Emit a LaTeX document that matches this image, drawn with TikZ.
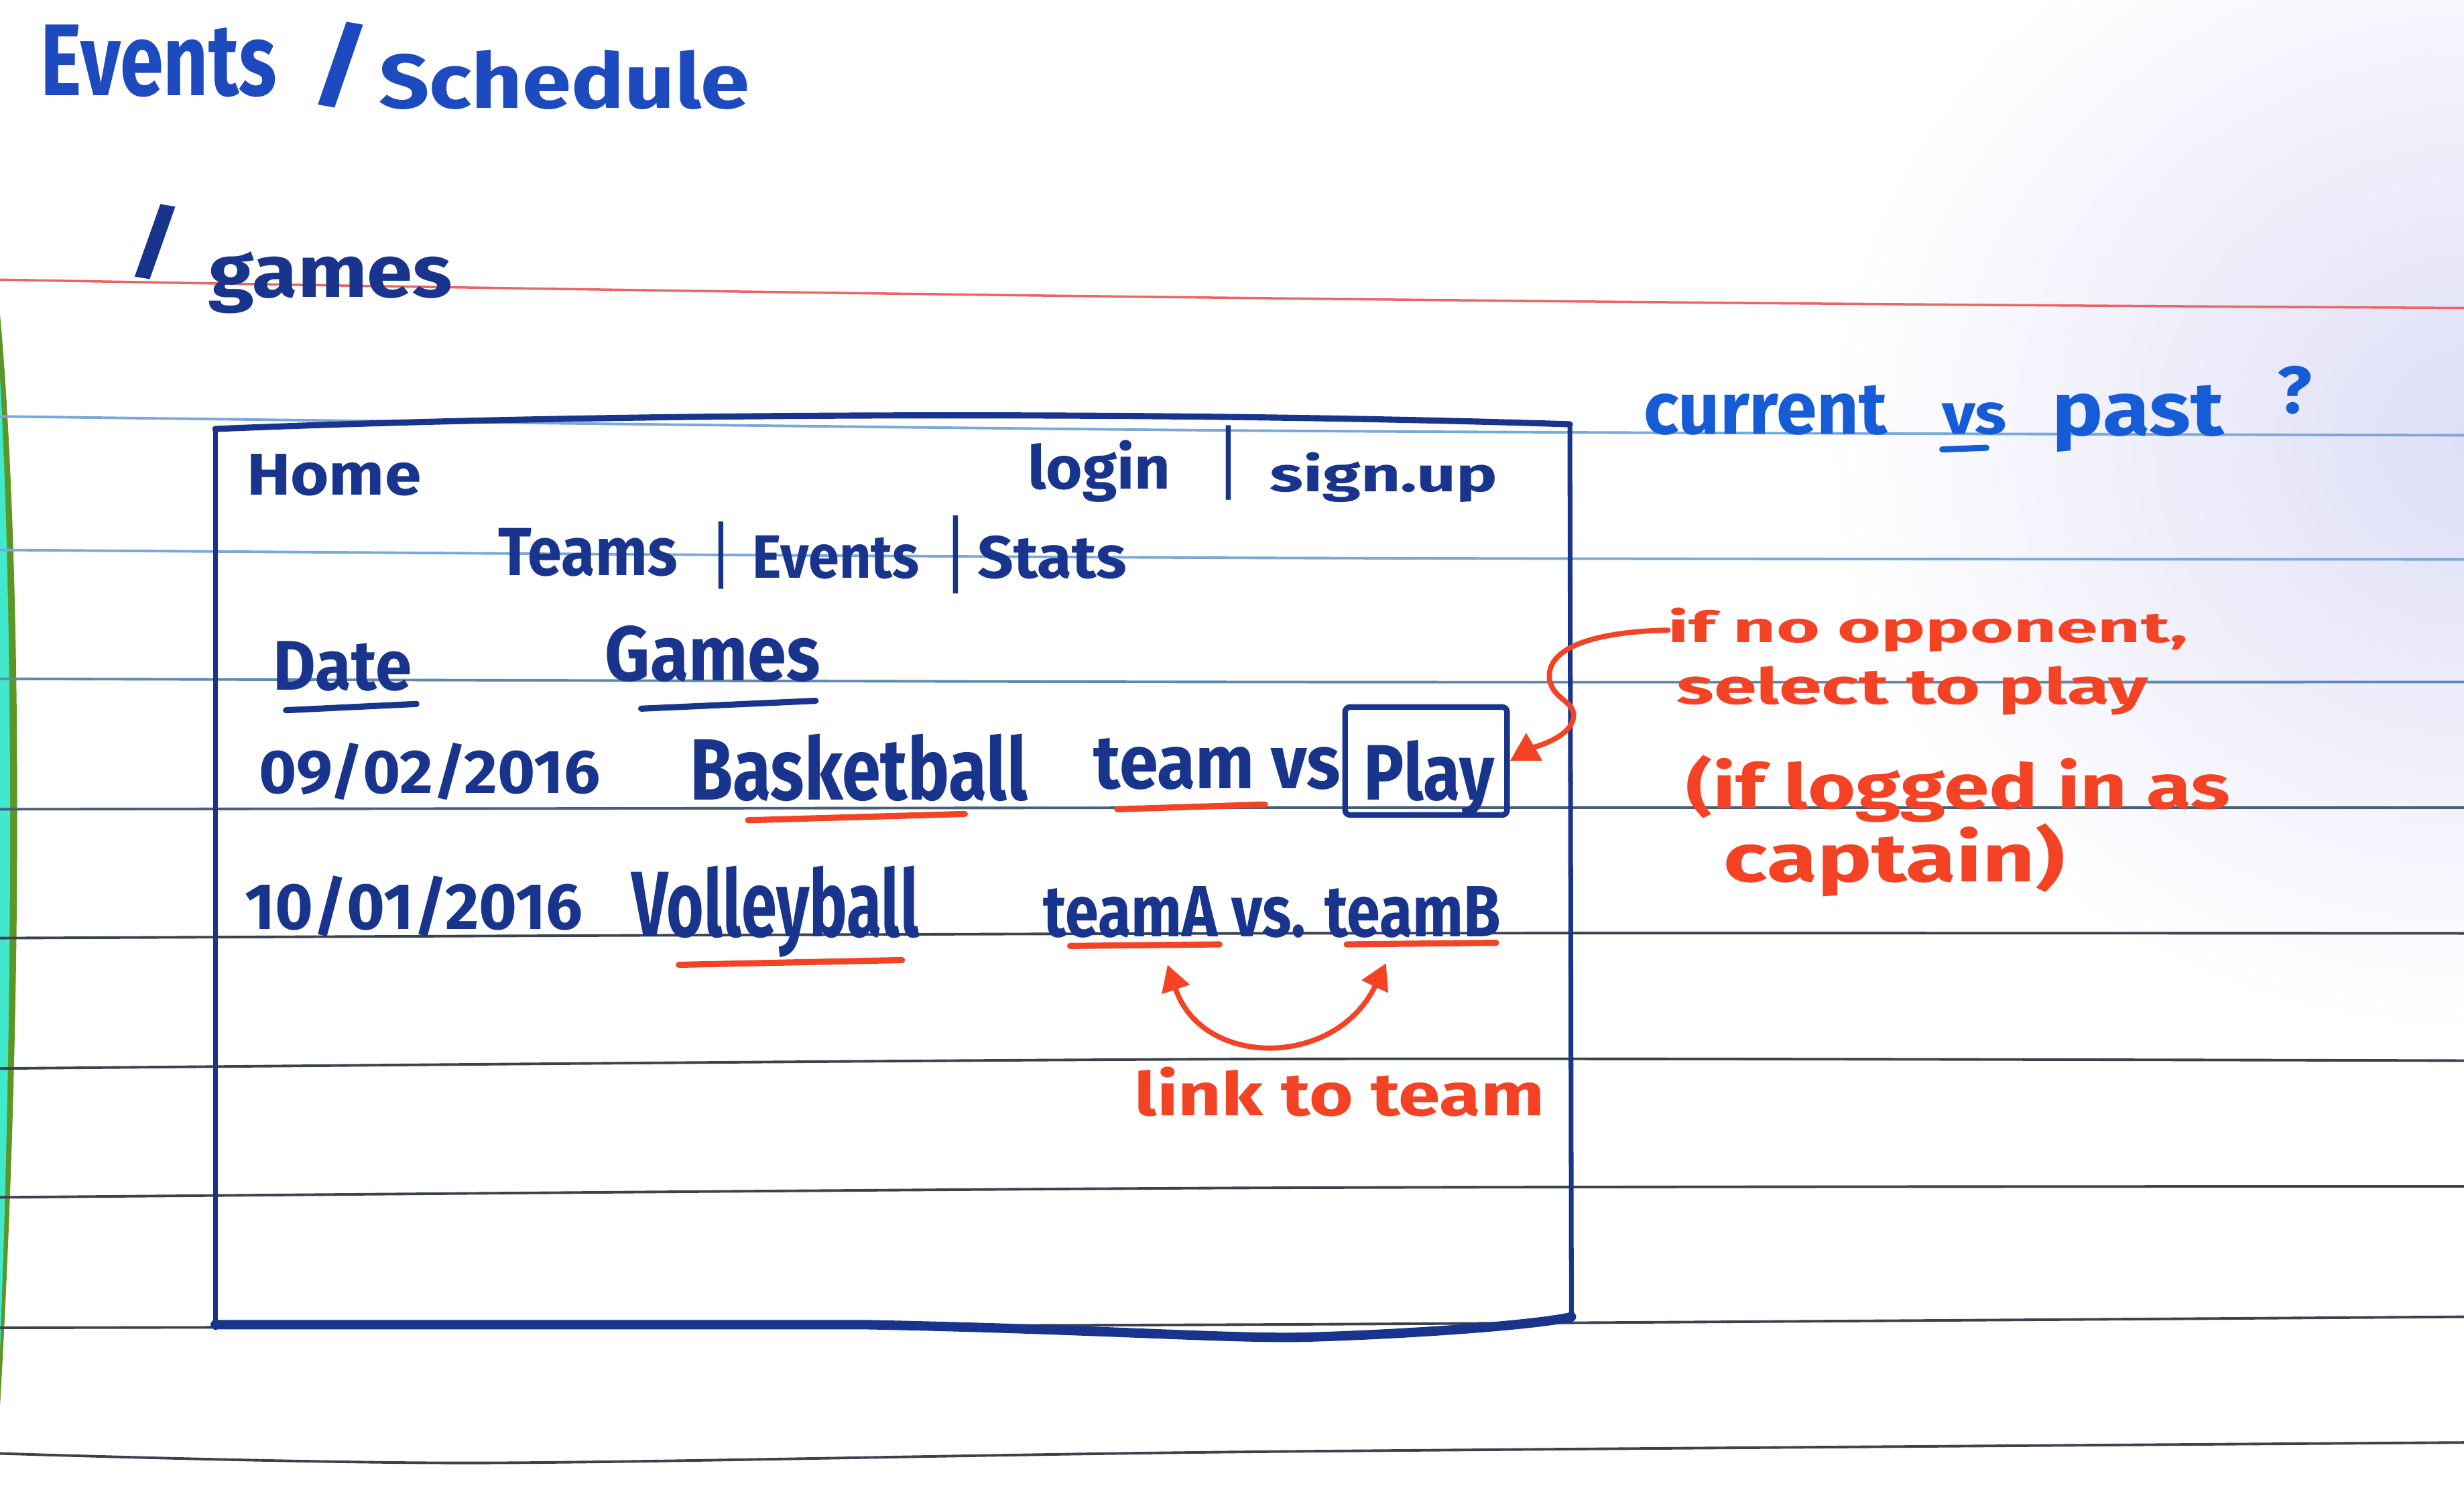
\documentclass[tikz,border=0pt]{standalone}
\usepackage{fontspec}
\setmainfont{Fira Sans}
\usetikzlibrary{arrows.meta}
% one drawing unit = one pixel of a 1568 px wide sheet
\newdimen\sh \sh=0.023444cm
% text fitted to a given width and height (in sheet units)
\newcommand\hw[3]{\resizebox{#1\sh}{#2\sh}{#3}}
\definecolor{ink}{RGB}{24,52,140}
\definecolor{titleink}{RGB}{30,74,192}
\definecolor{noteink}{RGB}{22,92,214}
\definecolor{redink}{RGB}{244,66,36}
\definecolor{marginred}{RGB}{236,100,100}
\definecolor{ruleA}{RGB}{122,168,216}
\definecolor{ruleB}{RGB}{98,136,176}
\definecolor{ruleC}{RGB}{72,94,118}
\definecolor{ruleD}{RGB}{58,66,78}
\definecolor{haze}{RGB}{222,222,247}
\definecolor{edgeteal}{RGB}{64,232,204}
\definecolor{edgegreen}{RGB}{92,150,36}
\begin{document}
\begin{tikzpicture}[x=0.023444cm,y=-0.023444cm,
  hand/.style={inner sep=0pt,outer sep=0pt,anchor=base west,font=\bfseries},
  rule/.style={line width=1.1pt},
  frame/.style={draw=ink,line cap=round,line join=round},
  blueline/.style={draw=ink,line width=2.6pt,line cap=round},
  redline/.style={draw=redink,line width=2.6pt,line cap=round},
  redarrow/.style={draw=redink,line width=2.2pt,line cap=round}]
\useasboundingbox (0,0) rectangle (1568,952);
\fill[white] (0,0) rectangle (1568,952);

% light cast in the upper right corner
\begin{scope}
  \clip (0,0) rectangle (1568,952);
  \shade[inner color=haze,outer color=white] (1580,280) ellipse (420 and 380);
\end{scope}

% coloured edge of the page
\fill[edgegreen] (0,200) .. controls (12,330) and (17,600) .. (0,895) -- cycle;
\fill[edgeteal] (0,240) .. controls (7,360) and (10,600) .. (0,860) -- cycle;

% ruled lines
\draw[rule,ruleA] plot[smooth] coordinates {(0,265) (790,274) (1568,277)};
\draw[rule,ruleA] plot[smooth] coordinates {(0,350) (790,355) (1568,356)};
\draw[rule,ruleB] plot[smooth] coordinates {(0,432) (790,434) (1568,434)};
\draw[rule,ruleC] plot[smooth] coordinates {(0,515) (790,514) (1568,514)};
\draw[rule,ruleD] plot[smooth] coordinates {(0,597) (790,594) (1568,594)};
\draw[rule,ruleD] plot[smooth] coordinates {(0,680) (790,674) (1568,675)};
\draw[rule,ruleD] plot[smooth] coordinates {(0,762) (790,756) (1568,755)};
\draw[rule,ruleD] plot[smooth] coordinates {(0,845) (790,843) (1568,838)};
\draw[rule,ruleD] plot[smooth] coordinates {(0,925) (300,931) (790,924) (1568,918)};
% margin line
\draw[marginred,line width=1pt] (0,178) .. controls (500,187) and (1000,193) .. (1568,196);

% heading
\node[hand,text=titleink] (hEvents) at (26,61) {\hw{150}{45}{Events}};
\node[hand,text=titleink] (hSlash) at (197,62) {\hw{40}{48}{/}};
\node[hand,text=titleink] (hSchedule) at (241,69) {\hw{236}{37}{Schedule}};
\node[hand,text=ink] (gSlash) at (81,172) {\hw{36}{42}{/}};
\node[hand,text=ink] (gGames) at (133,189) {\hw{155}{29}{games}};

% note at the top right
\node[hand,text=noteink] (qCurrent) at (1046,276) {\hw{155}{31}{current}};
\node[hand,text=noteink] (qVs) at (1236,276) {\hw{41}{20}{vs}};
\node[hand,text=noteink] (qPast) at (1306,277) {\hw{109}{32}{past}};
\node[hand,text=noteink] (qMark) at (1449,263) {\hw{22}{30}{?}};
\draw[draw=noteink,line width=2.6pt,line cap=round] (1236,286) -- (1264,285);

% page frame
\draw[frame,line width=2.6pt] (137,273) .. controls (400,262) and (750,262) .. (999,270);
\draw[frame,line width=2pt] (137,273) -- (137,845);
\draw[frame,line width=2pt] (999,270) -- (1000,840);
\draw[frame,line width=4pt] (137,843) -- (550,843) .. controls (700,846) and (780,852) .. (830,851)
  .. controls (900,849) and (980,843) .. (1000,838);

% header and menu
\node[hand,text=ink] (home) at (157,315) {\hw{111}{26}{Home}};
\node[hand,text=ink] (login) at (654,311) {\hw{91}{31}{login}};
\node[hand,text=ink] (barA) at (778,313) {\hw{8}{42}{|}};
\node[hand,text=ink] (signup) at (808,313) {\hw{145}{25}{sign.up}};
\node[hand,text=ink] (teams) at (317,366) {\hw{114}{30}{Teams}};
\node[hand,text=ink] (barB) at (455,370) {\hw{8}{38}{|}};
\node[hand,text=ink] (events) at (479,368) {\hw{106}{27}{Events}};
\node[hand,text=ink] (barC) at (604,372) {\hw{8}{44}{|}};
\node[hand,text=ink] (stats) at (622,368) {\hw{95}{27}{Stats}};

% table header
\node[hand,text=ink] (date) at (174,439) {\hw{88}{31}{Date}};
\node[hand,text=ink] (games) at (385,433) {\hw{137}{35}{Games}};
\draw[blueline] (182,452) -- (265,448);
\draw[blueline] (408,451) -- (519,446);

% first row
\node[hand,text=ink] (dateA) at (165,505) {\hw{217}{32}{09/02/2016}};
\node[hand,text=ink] (basket) at (439,509) {\hw{215}{42}{Basketball}};
\node[hand,text=ink] (teamvs) at (696,502) {\hw{157}{32}{team vs}};
\node[draw=ink,line width=2.4pt,rounded corners=2pt,minimum width=2.415cm,minimum height=1.608cm,
  inner sep=0pt] (playbox) at (907.5,484.3) {};
\node[hand,text=ink] (play) at (868,509) {\hw{83}{38}{Play}};
\draw[redline] (476,522) -- (614,518);
\draw[redline] (711,515) -- (805,512);

% second row
\node[hand,text=ink] (dateB) at (156,591.5) {\hw{215}{34}{10/01/2016}};
\node[hand,text=ink] (volley) at (402,596) {\hw{183}{45}{Volleyball}};
\node[hand,text=ink] (teams2) at (664,596) {\hw{291}{32}{teamA vs. teamB}};
\draw[redline] (432,614) -- (574,611);
\draw[redline] (681,602) -- (776,601);
\draw[redline] (857,601) -- (952,600);

% link annotation
\coordinate (linkA) at (743,614);
\coordinate (linkB) at (882,613);
\draw[redarrow,{Triangle[length=11pt,width=12pt]}-{Triangle[length=11pt,width=12pt]}]
  (linkA) .. controls (765,680) and (850,680) .. (linkB);
\node[hand,text=redink] (link) at (722,710) {\hw{261}{31}{link to team}};

% opponent annotation
\node[hand,text=redink] (ifnote) at (1061.5,409) {\hw{331}{22}{if no opponent,}};
\node[hand,text=redink] (select) at (1067,448) {\hw{300}{24}{select to play}};
\node[hand,text=redink] (logged) at (1073,514.5) {\hw{346}{34}{(if logged in as}};
\node[hand,text=redink] (captain) at (1097,561) {\hw{217}{37}{captain)}};
\draw[redarrow,-{Triangle[length=12pt,width=13pt]}]
  (ifnote.west) .. controls (1015,402) and (984,412) .. (986,432)
  .. controls (988,446) and (1004,446) .. (1001,458)
  .. controls (998,470) and (975,476) .. (playbox.east);
\end{tikzpicture}
\end{document}
